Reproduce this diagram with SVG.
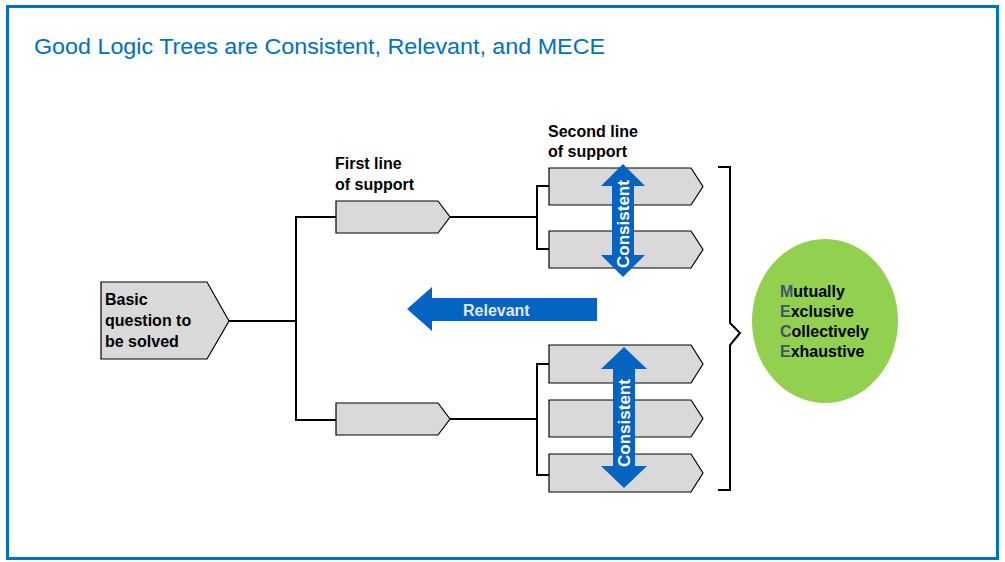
<svg xmlns="http://www.w3.org/2000/svg" width="1005" height="562" viewBox="0 0 1005 562">
<style>
.node{fill:#D9D9D9;stroke:#000;stroke-width:1.2}
.lbl{font-family:"Liberation Sans",Arial,sans-serif;font-weight:bold;font-size:16px;fill:#000}
.conn{fill:none;stroke:#000;stroke-width:2}
.arrow{fill:#0563C1}
.atxt{font-family:"Liberation Sans",Arial,sans-serif;font-weight:bold;font-size:16px;fill:#fff}
.cap{fill:#44546A}
</style>
<rect x="0" y="0" width="1005" height="562" fill="#fff"/>
<rect x="7.5" y="6.5" width="990" height="552" fill="none" stroke="#0070C0" stroke-width="3"/>
<text x="34" y="54" font-family="'Liberation Sans',Arial,sans-serif" font-size="22" fill="#0070C0" textLength="571" lengthAdjust="spacingAndGlyphs">Good Logic Trees are Consistent, Relevant, and MECE</text>

<g id="connectors">
<polyline class="conn" points="229,321 296,321"/>
<polyline class="conn" points="336,217 296,217 296,420 336,420"/>
<polyline class="conn" points="450,217 537,217"/>
<polyline class="conn" points="549,186 537,186 537,249 549,249"/>
<polyline class="conn" points="450,419 537,419"/>
<polyline class="conn" points="549,364 537,364 537,475 549,475"/>
<polyline class="conn" points="718,167 730,167 730,323 740,333 730,345 730,490 718,490"/>
</g>

<g id="basic">
<polygon class="node" points="101,282 207,282 229,321 207,359 101,359"/>
<text class="lbl" x="105" y="305">Basic</text>
<text class="lbl" x="105" y="326">question to</text>
<text class="lbl" x="105" y="347">be solved</text>
</g>

<g id="first-label">
<text class="lbl" x="335" y="169">First line</text>
<text class="lbl" x="335" y="190">of support</text>
</g>
<g id="first-1"><polygon class="node" points="336,201 438,201 450,217 438,233 336,233"/></g>
<g id="first-2"><polygon class="node" points="336,403 438,403 450,419 438,435 336,435"/></g>

<g id="second-label">
<text class="lbl" x="548" y="137">Second line</text>
<text class="lbl" x="548" y="157">of support</text>
</g>
<g id="second-1"><polygon class="node" points="549,168 691,168 703,186.5 691,205 549,205"/></g>
<g id="second-2"><polygon class="node" points="549,231 691,231 703,249.5 691,268 549,268"/></g>
<g id="second-3"><polygon class="node" points="549,345 691,345 703,364 691,383 549,383"/></g>
<g id="second-4"><polygon class="node" points="549,400 691,400 703,418.5 691,437 549,437"/></g>
<g id="second-5"><polygon class="node" points="549,454 691,454 703,473 691,492 549,492"/></g>

<g id="consistent-top">
<polygon class="arrow" points="623,164 645,186 634,186 634,255 645,255 623,277 601,255 612,255 612,186 601,186"/>
<text class="atxt" transform="translate(629,224) rotate(-90)" text-anchor="middle" style="font-size:17px">Consistent</text>
</g>
<g id="consistent-bottom">
<polygon class="arrow" points="624,347 647,369 635,369 635,466 647,466 624,488 601,466 613,466 613,369 601,369"/>
<text class="atxt" transform="translate(630,423) rotate(-90)" text-anchor="middle" style="font-size:17px">Consistent</text>
</g>

<g id="relevant">
<polygon class="arrow" points="407,309 432,287 432,298 597,298 597,321 432,321 432,331"/>
<text class="atxt" x="463" y="316" style="fill:#E6E6E6">Relevant</text>
</g>

<g id="mece">
<ellipse cx="825" cy="321" rx="73" ry="82" fill="#92D050"/>
<text class="lbl" x="780" y="297"><tspan class="cap">M</tspan>utually</text>
<text class="lbl" x="780" y="317"><tspan class="cap">E</tspan>xclusive</text>
<text class="lbl" x="780" y="337"><tspan class="cap">C</tspan>ollectively</text>
<text class="lbl" x="780" y="357"><tspan class="cap">E</tspan>xhaustive</text>
</g>
</svg>
